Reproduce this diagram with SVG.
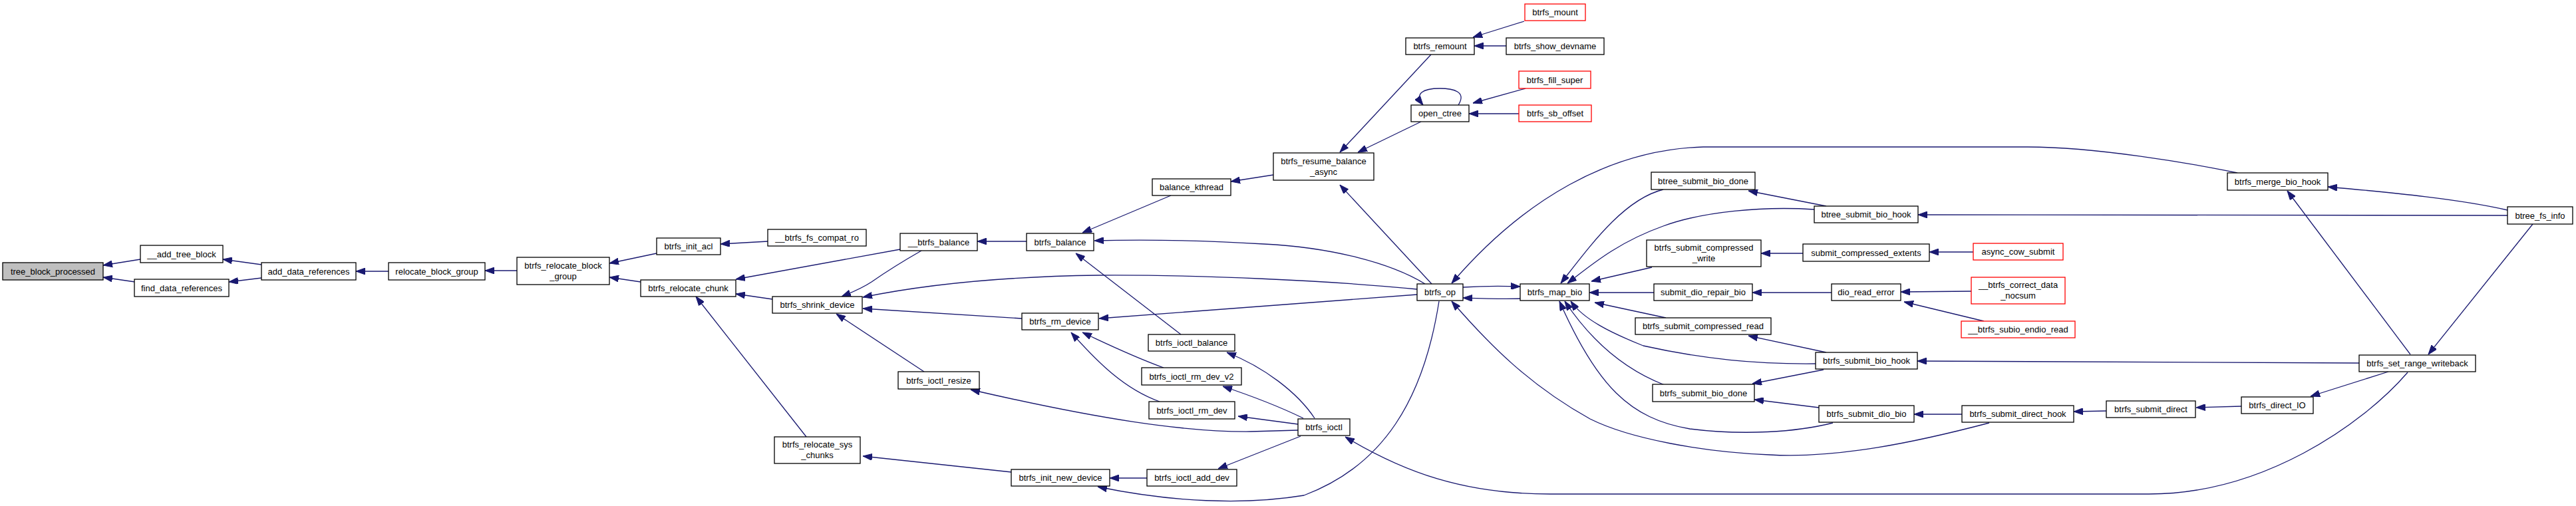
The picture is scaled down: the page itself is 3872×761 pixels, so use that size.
<svg xmlns="http://www.w3.org/2000/svg" width="3872" height="761" viewBox="0 0 3872 761">
<style>
.node rect{fill:#fff;stroke:#000;stroke-width:1.3}
.node.red rect{stroke:#ff0000}
.node.root rect{fill:#bfbfbf}
.node text{font-family:"Liberation Sans",Arial,sans-serif;font-size:13px;text-anchor:middle;fill:#000}
.edges path{fill:none;stroke:#191970;stroke-width:1.3;marker-end:url(#arr)}
</style>
<defs>
<marker id="arr" viewBox="0 0 14 10" refX="14" refY="5" markerWidth="14" markerHeight="10" markerUnits="userSpaceOnUse" orient="auto"><path d="M0,0L14,5L0,10z" fill="#191970" stroke="#191970" stroke-width="1"/></marker>
</defs>
<rect width="3872" height="761" fill="#fff"/>
<g id="edges" class="edges">
<path d="M211,390L155,399"/>
<path d="M203,424L155,417"/>
<path d="M393,398L335,390"/>
<path d="M393,418L344,424"/>
<path d="M584,408L535,408"/>
<path d="M777,407L729,407"/>
<path d="M987,381L916,396"/>
<path d="M963,424L916,417"/>
<path d="M1154,363L1083,367"/>
<path d="M1353,375L1106,420"/>
<path d="M1161,450L1106,442"/>
<path d="M1212,657L1046,446"/>
<path d="M1385,377C1350,397 1330,410 1310,424C1295,434 1280,440 1265,446"/>
<path d="M2130,435C2000,422 1800,413 1650,414C1500,416 1380,430 1297,447"/>
<path d="M1536,479L1297,464"/>
<path d="M1389,559L1257,472"/>
<path d="M1543,363L1469,363"/>
<path d="M1760,294L1627,350"/>
<path d="M1775,503L1617,381"/>
<path d="M2142,427C2090,395 2000,372 1900,367C1800,361 1720,360 1645,362"/>
<path d="M2130,443L1652,479"/>
<path d="M1749,553C1700,535 1670,520 1627,500"/>
<path d="M1743,604C1690,585 1650,545 1610,500"/>
<path d="M1976,629C1950,590 1900,552 1844,530"/>
<path d="M1959,629C1920,610 1880,595 1838,581"/>
<path d="M1951,638L1861,626"/>
<path d="M1951,647L1880,649C1780,650 1650,630 1459,586"/>
<path d="M1955,656L1831,705"/>
<path d="M1724,719L1668,719"/>
<path d="M2163,453C2140,600 2080,700 1960,745C1870,760 1760,755 1650,732"/>
<path d="M1520,710L1297,686"/>
<path d="M1914,263L1850,273"/>
<path d="M2151,82L2014,229"/>
<path d="M2136,183L2041,229"/>
<path d="M2291,32L2214,56"/>
<path d="M2264,69L2216,69"/>
<path d="M2293,133L2214,155"/>
<path d="M2283,171L2208,171"/>
<path d="M2192,158C2205,138 2185,133 2164,133C2140,133 2125,140 2139,158"/>
<path d="M2152,427L2014,278"/>
<path d="M3363,260C3290,245 3150,221 3045,221L2560,221C2420,225 2290,300 2182,426"/>
<path d="M2199,432C2230,430 2260,430 2285,431"/>
<path d="M2285,449C2260,450 2230,449 2199,448"/>
<path d="M2500,285C2440,300 2390,370 2346,426"/>
<path d="M2727,315C2650,310 2560,318 2500,340C2430,365 2390,400 2356,426"/>
<path d="M2483,402L2392,423"/>
<path d="M2486,440L2389,440"/>
<path d="M2504,478L2397,455"/>
<path d="M2729,547C2640,548 2560,540 2470,520C2420,500 2380,480 2361,453"/>
<path d="M2502,579C2440,555 2390,510 2352,453"/>
<path d="M2755,636C2700,650 2620,655 2540,645C2450,630 2400,580 2344,453"/>
<path d="M2990,636C2880,665 2760,690 2660,684C2560,680 2450,660 2390,630C2300,580 2240,520 2182,453"/>
<path d="M2745,530L2628,505"/>
<path d="M2741,556L2634,577"/>
<path d="M2734,613L2637,601"/>
<path d="M2949,623L2877,623"/>
<path d="M3166,618L3117,619"/>
<path d="M3369,611L3301,613"/>
<path d="M3590,559L3473,596"/>
<path d="M3546,546L2882,543"/>
<path d="M3619,560C3550,640 3400,743 3230,743L2330,743C2200,743 2110,710 2022,657"/>
<path d="M3623,533L3438,287"/>
<path d="M3769,316C3700,300 3600,290 3499,281"/>
<path d="M3769,324L2883,323"/>
<path d="M3807,337L3650,533"/>
<path d="M2745,310L2628,287"/>
<path d="M2710,381L2647,381"/>
<path d="M2966,379L2900,379"/>
<path d="M2753,440L2634,440"/>
<path d="M2963,438L2857,439"/>
<path d="M2982,483L2862,454"/>
</g>
<g id="n1" class="node root"><rect x="4" y="395" width="151" height="26"/><text x="79.5" y="412.5">tree_block_processed</text></g>
<g id="n2" class="node"><rect x="211" y="369" width="124" height="26"/><text x="273" y="386.5">__add_tree_block</text></g>
<g id="n3" class="node"><rect x="202" y="420" width="142" height="26"/><text x="273" y="437.5">find_data_references</text></g>
<g id="n4" class="node"><rect x="393" y="395" width="142" height="26"/><text x="464" y="412.5">add_data_references</text></g>
<g id="n5" class="node"><rect x="584" y="395" width="145" height="26"/><text x="656.5" y="412.5">relocate_block_group</text></g>
<g id="n6" class="node"><rect x="777" y="387" width="139" height="41"/><text x="846.5" y="403.5">btrfs_relocate_block</text><text x="846.5" y="419.5">_group</text></g>
<g id="n7" class="node"><rect x="987" y="358" width="96" height="25"/><text x="1035" y="374.5">btrfs_init_acl</text></g>
<g id="n8" class="node"><rect x="963" y="421" width="143" height="25"/><text x="1034.5" y="437.5">btrfs_relocate_chunk</text></g>
<g id="n9" class="node"><rect x="1154" y="345" width="148" height="25"/><text x="1228" y="361.5">__btrfs_fs_compat_ro</text></g>
<g id="n10" class="node"><rect x="1161" y="446" width="135" height="25"/><text x="1228.5" y="462.5">btrfs_shrink_device</text></g>
<g id="n11" class="node"><rect x="1164" y="657" width="129" height="40"/><text x="1228.5" y="673">btrfs_relocate_sys</text><text x="1228.5" y="689">_chunks</text></g>
<g id="n12" class="node"><rect x="1353" y="351" width="116" height="26"/><text x="1411" y="368.5">__btrfs_balance</text></g>
<g id="n13" class="node"><rect x="1543" y="351" width="101" height="26"/><text x="1593.5" y="368.5">btrfs_balance</text></g>
<g id="n14" class="node"><rect x="1732" y="269" width="118" height="25"/><text x="1791" y="285.5">balance_kthread</text></g>
<g id="n15" class="node"><rect x="1914" y="230" width="151" height="41"/><text x="1989.5" y="246.5">btrfs_resume_balance</text><text x="1989.5" y="262.5">_async</text></g>
<g id="n16" class="node"><rect x="1536" y="471" width="115" height="25"/><text x="1593.5" y="487.5">btrfs_rm_device</text></g>
<g id="n17" class="node"><rect x="1726" y="503" width="130" height="25"/><text x="1791" y="519.5">btrfs_ioctl_balance</text></g>
<g id="n18" class="node"><rect x="1716" y="553" width="150" height="26"/><text x="1791" y="570.5">btrfs_ioctl_rm_dev_v2</text></g>
<g id="n19" class="node"><rect x="1727" y="604" width="129" height="26"/><text x="1791.5" y="621.5">btrfs_ioctl_rm_dev</text></g>
<g id="n20" class="node"><rect x="1350" y="559" width="122" height="26"/><text x="1411" y="576.5">btrfs_ioctl_resize</text></g>
<g id="n21" class="node"><rect x="1520" y="706" width="148" height="25"/><text x="1594" y="722.5">btrfs_init_new_device</text></g>
<g id="n22" class="node"><rect x="1724" y="706" width="135" height="25"/><text x="1791.5" y="722.5">btrfs_ioctl_add_dev</text></g>
<g id="n23" class="node"><rect x="1951" y="630" width="78" height="25"/><text x="1990" y="646.5">btrfs_ioctl</text></g>
<g id="n24" class="node"><rect x="2113" y="57" width="103" height="25"/><text x="2164.5" y="73.5">btrfs_remount</text></g>
<g id="n25" class="node red"><rect x="2292" y="6" width="91" height="25"/><text x="2337.5" y="22.5">btrfs_mount</text></g>
<g id="n26" class="node"><rect x="2264" y="57" width="147" height="25"/><text x="2337.5" y="73.5">btrfs_show_devname</text></g>
<g id="n27" class="node"><rect x="2121" y="158" width="87" height="25"/><text x="2164.5" y="174.5">open_ctree</text></g>
<g id="n28" class="node red"><rect x="2283" y="107" width="108" height="26"/><text x="2337" y="124.5">btrfs_fill_super</text></g>
<g id="n29" class="node red"><rect x="2283" y="158" width="109" height="25"/><text x="2337.5" y="174.5">btrfs_sb_offset</text></g>
<g id="n30" class="node"><rect x="2130" y="427" width="69" height="25"/><text x="2164.5" y="443.5">btrfs_op</text></g>
<g id="n31" class="node"><rect x="2285" y="427" width="104" height="25"/><text x="2337" y="443.5">btrfs_map_bio</text></g>
<g id="n32" class="node"><rect x="2482" y="259" width="156" height="26"/><text x="2560" y="276.5">btree_submit_bio_done</text></g>
<g id="n33" class="node"><rect x="2475" y="361" width="172" height="40"/><text x="2561" y="377">btrfs_submit_compressed</text><text x="2561" y="393">_write</text></g>
<g id="n34" class="node"><rect x="2486" y="427" width="148" height="25"/><text x="2560" y="443.5">submit_dio_repair_bio</text></g>
<g id="n35" class="node"><rect x="2458" y="478" width="204" height="25"/><text x="2560" y="494.5">btrfs_submit_compressed_read</text></g>
<g id="n36" class="node"><rect x="2484" y="578" width="153" height="26"/><text x="2560.5" y="595.5">btrfs_submit_bio_done</text></g>
<g id="n37" class="node"><rect x="2727" y="310" width="156" height="25"/><text x="2805" y="326.5">btree_submit_bio_hook</text></g>
<g id="n38" class="node"><rect x="2710" y="367" width="190" height="26"/><text x="2805" y="384.5">submit_compressed_extents</text></g>
<g id="n39" class="node red"><rect x="2966" y="366" width="135" height="25"/><text x="3033.5" y="382.5">async_cow_submit</text></g>
<g id="n40" class="node"><rect x="2753" y="427" width="104" height="25"/><text x="2805" y="443.5">dio_read_error</text></g>
<g id="n41" class="node red"><rect x="2963" y="417" width="141" height="40"/><text x="3033.5" y="433">__btrfs_correct_data</text><text x="3033.5" y="449">_nocsum</text></g>
<g id="n42" class="node red"><rect x="2948" y="483" width="171" height="25"/><text x="3033.5" y="499.5">__btrfs_subio_endio_read</text></g>
<g id="n43" class="node"><rect x="2729" y="530" width="153" height="25"/><text x="2805.5" y="546.5">btrfs_submit_bio_hook</text></g>
<g id="n44" class="node"><rect x="2734" y="610" width="143" height="25"/><text x="2805.5" y="626.5">btrfs_submit_dio_bio</text></g>
<g id="n45" class="node"><rect x="2949" y="610" width="168" height="25"/><text x="3033" y="626.5">btrfs_submit_direct_hook</text></g>
<g id="n46" class="node"><rect x="3166" y="603" width="134" height="25"/><text x="3233" y="619.5">btrfs_submit_direct</text></g>
<g id="n47" class="node"><rect x="3369" y="597" width="108" height="25"/><text x="3423" y="613.5">btrfs_direct_IO</text></g>
<g id="n48" class="node"><rect x="3348" y="260" width="151" height="26"/><text x="3423.5" y="277.5">btrfs_merge_bio_hook</text></g>
<g id="n49" class="node"><rect x="3769" y="311" width="98" height="26"/><text x="3818" y="328.5">btree_fs_info</text></g>
<g id="n50" class="node"><rect x="3546" y="534" width="175" height="25"/><text x="3633.5" y="550.5">btrfs_set_range_writeback</text></g>
</svg>
